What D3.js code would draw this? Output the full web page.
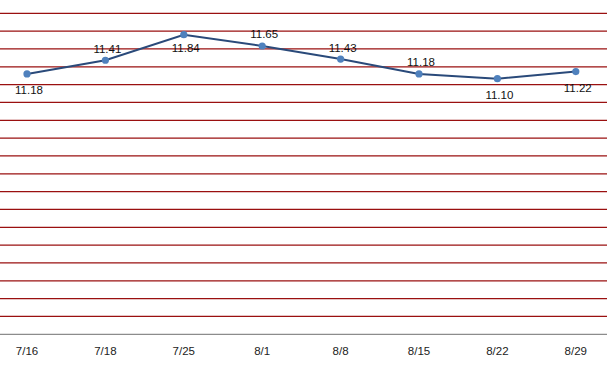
<!DOCTYPE html>
<html><head><meta charset="utf-8">
<script src="https://cdn.jsdelivr.net/npm/d3@7"></script>
<style>body{margin:0;background:#fff;}svg{display:block;}</style>
</head><body>
<svg id="c" width="607" height="377"></svg>
<script>
const categories = ["7/16","7/18","7/25","8/1","8/8","8/15","8/22","8/29"];
const values = [11.18, 11.41, 11.84, 11.65, 11.43, 11.18, 11.10, 11.22];
const labelPos = ["below","above","below","above","above","above","below","below"];
const yTicks = d3.range(0, 19).map(i => +(6.8 + i * 0.3).toFixed(1));

const svg = d3.select("#c");
const x = d3.scaleBand().domain(categories).range([-12.2, 615]).padding(0);
const y = d3.scaleLinear().domain([6.8, 12.2]).range([334.3, 13.3]);
const font = "'Liberation Sans', Arial, sans-serif";

// gridlines
svg.append("g").selectAll("line").data(yTicks.slice(1)).join("line")
  .attr("x1", 0).attr("x2", 607)
  .attr("y1", d => y(d)).attr("y2", d => y(d))
  .attr("stroke", "#9A1010").attr("stroke-width", 1.2);

// x axis
const xAxis = d3.axisBottom(x).tickSize(0).tickPadding(13);
const gx = svg.append("g").attr("transform", `translate(0,${y(6.8)})`).call(xAxis);
gx.select(".domain").attr("d", "M0,0H607").attr("stroke", "#8c8c8c").attr("stroke-width", 1.2);
gx.selectAll("text").attr("font-family", font).attr("font-size", 11.5).attr("fill", "#222");

// line
const cx = d => x(d) + x.bandwidth() / 2;
const line = d3.line().x((d, i) => cx(categories[i])).y(d => y(d));
svg.append("path").datum(values).attr("d", line)
  .attr("fill", "none").attr("stroke", "#2A4A7A").attr("stroke-width", 2);

svg.append("g").selectAll("circle").data(values).join("circle")
  .attr("cx", (d, i) => cx(categories[i])).attr("cy", d => y(d))
  .attr("r", 3.6).attr("fill", "#4F81BD");

svg.append("g").selectAll("text").data(values).join("text")
  .attr("x", (d, i) => cx(categories[i]) + 2)
  .attr("y", (d, i) => y(d) + (labelPos[i] === "below" ? (i === 2 ? 17 : 20.5) : -7.5))
  .attr("text-anchor", "middle")
  .attr("font-family", font).attr("font-size", 11.5).attr("fill", "#111")
  .text(d => d.toFixed(2));
</script>
</body></html>
